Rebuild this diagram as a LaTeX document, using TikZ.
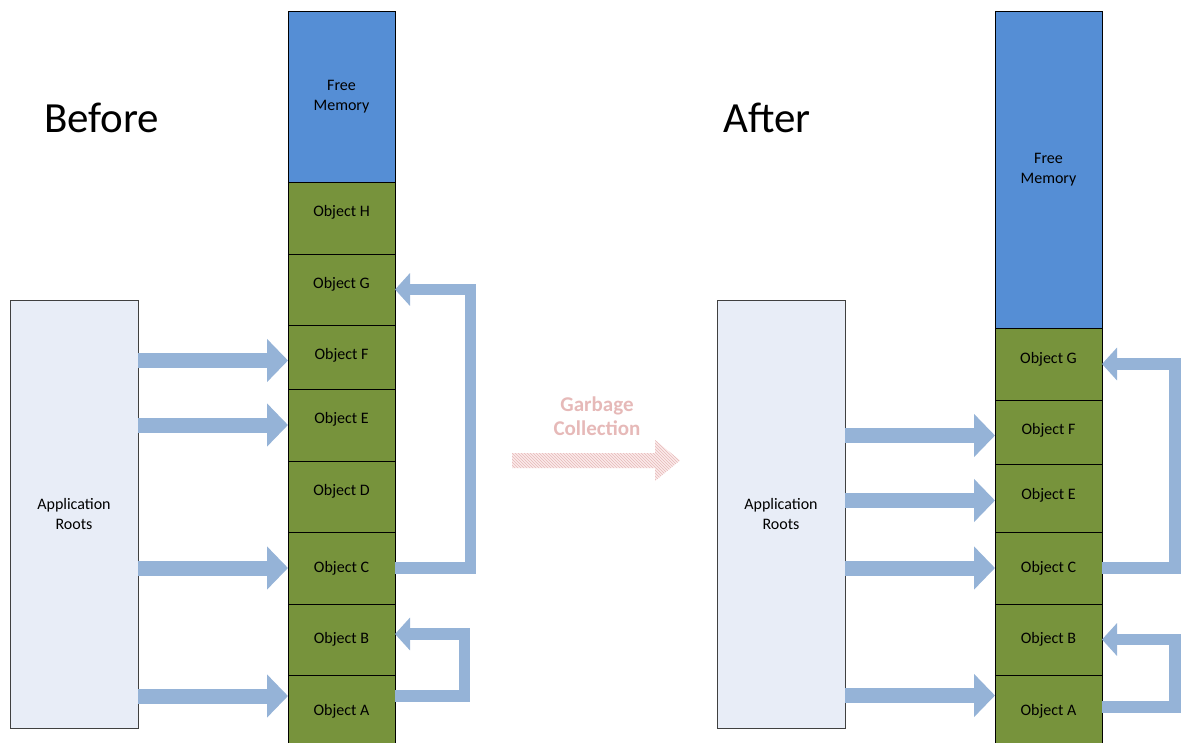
\documentclass[tikz,border=0pt]{standalone}
\usepackage{fontspec}
\setmainfont{Carlito}
\usetikzlibrary{arrows.meta,patterns}

\definecolor{freeblue}{HTML}{558ED5}
\definecolor{objgreen}{HTML}{77933C}
\definecolor{rootfill}{HTML}{E8EDF7}
\definecolor{linkblue}{HTML}{95B3D7}
\definecolor{gcpink}{HTML}{E6B9B8}
\definecolor{gcfill}{HTML}{FBEBEB}

\begin{document}
\begin{tikzpicture}[x=1pt,y=-1pt,
  block/.style={draw=black, line width=0.9pt, minimum width=107pt,
    inner sep=0pt, outer sep=0pt},
  freeblk/.style={block, fill=freeblue},
  objblk/.style={block, fill=objgreen},
  blocktext/.style={inner sep=0pt, align=center,
    font=\fontsize{16}{20}\selectfont},
  roots/.style={draw=black!75, line width=0.9pt, fill=rootfill,
    minimum width=128pt, minimum height=428pt, inner sep=0pt,
    outer sep=0pt, align=center, font=\fontsize{16}{20}\selectfont},
  rootlink/.style={draw=linkblue, line width=15pt,
    -{Triangle[width=42pt,length=21pt]}},
  looplink/.style={draw=linkblue, line width=11.5pt, line join=miter,
    -{Triangle[width=32pt,length=15pt]}},
  title/.style={font=\fontsize{43}{50}\selectfont, anchor=base west,
    inner sep=0pt},
  gctext/.style={font=\bfseries\fontsize{21}{24}\selectfont,
    text=gcpink, align=center, inner sep=0pt}
]
\useasboundingbox (0,0) rectangle (1181,742);
\clip (0,0) rectangle (1181,742);

% ---------- before collection ----------
\node[title] (tBefore) at (44,132) {Before};

\node[roots] (rootsL) at (74,514) {Application\\Roots};

% memory blocks
\node[freeblk, minimum height=171pt] (lFree) at (341.5,96.5) {};
\node[objblk, minimum height=72pt] (lH) at (341.5,218)   {};
\node[objblk, minimum height=71pt] (lG) at (341.5,289.5) {};
\node[objblk, minimum height=64pt] (lF) at (341.5,357)   {};
\node[objblk, minimum height=72pt] (lE) at (341.5,425)   {};
\node[objblk, minimum height=71pt] (lD) at (341.5,496.5) {};
\node[objblk, minimum height=72pt] (lC) at (341.5,568)   {};
\node[objblk, minimum height=71pt] (lB) at (341.5,639.5) {};
\node[objblk, minimum height=72pt] (lA) at (341.5,711)   {};

% block labels
\node[blocktext] (lFreeText) at (341.5,97) {Free\\Memory};
\node[blocktext] (lHText) at (341.5,212) {Object H};
\node[blocktext] (lGText) at (341.5,284) {Object G};
\node[blocktext] (lFText) at (341.5,355) {Object F};
\node[blocktext] (lEText) at (341.5,419) {Object E};
\node[blocktext] (lDText) at (341.5,491) {Object D};
\node[blocktext] (lCText) at (341.5,568) {Object C};
\node[blocktext] (lBText) at (341.5,639) {Object B};
\node[blocktext] (lAText) at (341.5,711) {Object A};

\draw[rootlink] (rootsL.east |- 0,360.5) -- (lF.west |- 0,360.5);
\draw[rootlink] (rootsL.east |- 0,425)   -- (lE.west |- 0,425);
\draw[rootlink] (rootsL.east |- 0,568)   -- (lC.west |- 0,568);
\draw[rootlink] (rootsL.east |- 0,696)   -- (lA.west |- 0,696);

\draw[looplink] (lC.east) -- (470.5,568) |- (lG.east);
\draw[looplink] (lA.east |- 0,696) -- (464.5,696) |- (lB.east |- 0,634);

% ---------- collection step ----------
\node[gctext] (gcLabel) at (597,416) {Garbage\\Collection};
\coordinate (gcTail) at (512,460.5);
\coordinate (gcTip)  at (680,460.5);
\path[fill=gcfill, postaction={pattern=north west lines, pattern color=gcpink}]
  (gcTail) ++(0,-7.5) -- (655,453) -- (655,440) -- (gcTip)
  -- (655,481) -- (655,468) -- (512,468) -- cycle;

% ---------- after collection ----------
\node[title] (tAfter) at (723,132) {After};

\node[roots] (rootsR) at (781,514) {Application\\Roots};

% memory blocks
\node[freeblk, minimum height=317pt] (rFree) at (1048.5,169.5) {};
\node[objblk, minimum height=72pt] (rG) at (1048.5,364)   {};
\node[objblk, minimum height=64pt] (rF) at (1048.5,432)   {};
\node[objblk, minimum height=68pt] (rE) at (1048.5,498)   {};
\node[objblk, minimum height=72pt] (rC) at (1048.5,568)   {};
\node[objblk, minimum height=71pt] (rB) at (1048.5,639.5) {};
\node[objblk, minimum height=72pt] (rA) at (1048.5,711)   {};

% block labels
\node[blocktext] (rFreeText) at (1048.5,170) {Free\\Memory};
\node[blocktext] (rGText) at (1048.5,359) {Object G};
\node[blocktext] (rFText) at (1048.5,430) {Object F};
\node[blocktext] (rEText) at (1048.5,495) {Object E};
\node[blocktext] (rCText) at (1048.5,568) {Object C};
\node[blocktext] (rBText) at (1048.5,639) {Object B};
\node[blocktext] (rAText) at (1048.5,711) {Object A};

\draw[rootlink] (rootsR.east |- 0,435.5) -- (rF.west |- 0,435.5);
\draw[rootlink] (rootsR.east |- 0,500.5) -- (rE.west |- 0,500.5);
\draw[rootlink] (rootsR.east |- 0,568)   -- (rC.west |- 0,568);
\draw[rootlink] (rootsR.east |- 0,695.5) -- (rA.west |- 0,695.5);

\draw[looplink] (rC.east) -- (1175,568) |- (rG.east);
\draw[looplink] (rA.east |- 0,707) -- (1175,707) |- (rB.east);
\end{tikzpicture}
\end{document}
